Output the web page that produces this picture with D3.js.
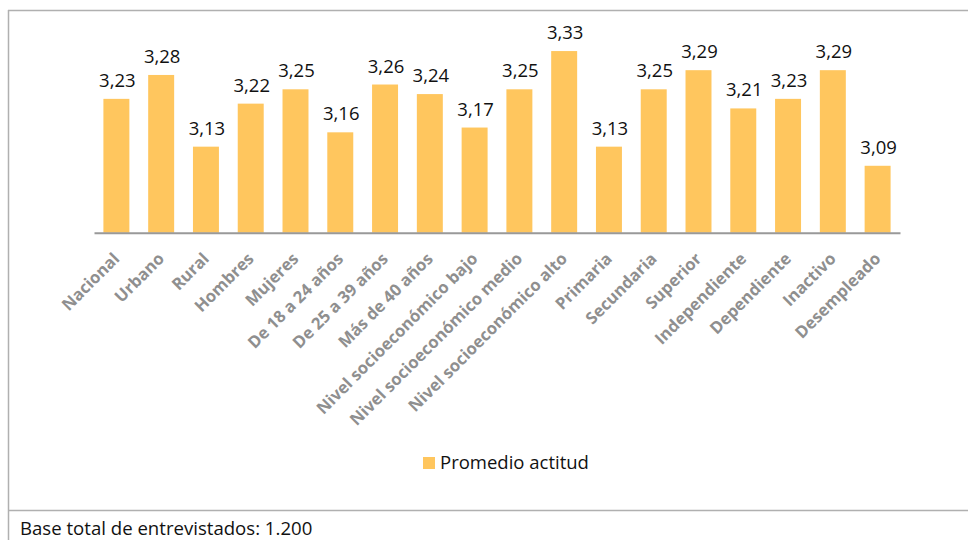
<!DOCTYPE html>
<html><head><meta charset="utf-8">
<script src="https://cdn.jsdelivr.net/npm/d3@7"></script>
<style>body{margin:0;background:#fff}svg{display:block}</style>
</head><body>
<svg id="c" width="968" height="540"></svg>
<script>
const categories = ["Nacional","Urbano","Rural","Hombres","Mujeres","De 18 a 24 años","De 25 a 39 años","Más de 40 años","Nivel socioeconómico bajo","Nivel socioeconómico medio","Nivel socioeconómico alto","Primaria","Secundaria","Superior","Independiente","Dependiente","Inactivo","Desempleado"];
const values = [3.23,3.28,3.13,3.22,3.25,3.16,3.26,3.24,3.17,3.25,3.33,3.13,3.25,3.29,3.21,3.23,3.29,3.09];
const seriesName = "Promedio actitud";
const footnote = "Base total de entrevistados: 1.200";
const yDomain = [2.95, 3.35];

const svg = d3.select("#c");
const W = 968, H = 540;
const barColor = "#FFC65E";
const font = "'Open Sans', sans-serif";

// frame
svg.append("line").attr("x1",8.5).attr("x2",8.5).attr("y1",10).attr("y2",H).attr("stroke","#b0b0b0").attr("stroke-width",1.5);
svg.append("line").attr("x1",8).attr("x2",W).attr("y1",10.5).attr("y2",10.5).attr("stroke","#b0b0b0").attr("stroke-width",1.5);
svg.append("line").attr("x1",8).attr("x2",W).attr("y1",510.5).attr("y2",510.5).attr("stroke","#b0b0b0").attr("stroke-width",1.5);

const x = d3.scaleBand().domain(categories).range([94, 900]).paddingInner(0.42).paddingOuter(0.21);
const y = d3.scaleLinear().domain(yDomain).range([232.7, 41.5]);

const data = categories.map((c,i)=>({c, v: values[i]}));

svg.append("g").selectAll("rect").data(data).join("rect")
  .attr("x", d=>x(d.c)).attr("width", x.bandwidth())
  .attr("y", d=>y(d.v)).attr("height", d=>y(yDomain[0]) - y(d.v))
  .attr("fill", barColor);

// axis
const xAxis = d3.axisBottom(x).tickSize(0).tickFormat("");
const ax = svg.append("g").attr("transform", `translate(0,${y(yDomain[0])})`).call(xAxis);
ax.select(".domain").attr("stroke","#999").attr("stroke-width",2);

// x labels
svg.append("g").selectAll("text").data(data).join("text")
  .attr("transform", d=>`translate(${x(d.c)+x.bandwidth()/2+1},${y(yDomain[0])+24}) rotate(-45)`)
  .attr("text-anchor","end").attr("dominant-baseline","middle")
  .attr("font-family", font).attr("font-weight", 700).attr("font-size", 16.6)
  .attr("fill","#8f8f8f")
  .text(d=>d.c);

// value labels
svg.append("g").selectAll("text").data(data).join("text")
  .attr("x", d=>x(d.c)+x.bandwidth()/2+1).attr("y", d=>y(d.v)-12)
  .attr("text-anchor","middle")
  .attr("font-family", font).attr("font-size", 18.5).attr("fill","#111")
  .text(d=>d3.format(".2f")(d.v).replace(".", ","));

// legend
const lg = svg.append("g");
lg.append("rect").attr("x",423).attr("y",457).attr("width",12).attr("height",12).attr("fill",barColor);
lg.append("text").attr("x",440).attr("y",469).attr("font-family",font).attr("font-size",18.5).attr("fill","#111").text(seriesName);

// footnote
svg.append("text").attr("x",20).attr("y",535).attr("font-family",font).attr("font-size",18.6).attr("fill","#111").text(footnote);
</script>
</body></html>
